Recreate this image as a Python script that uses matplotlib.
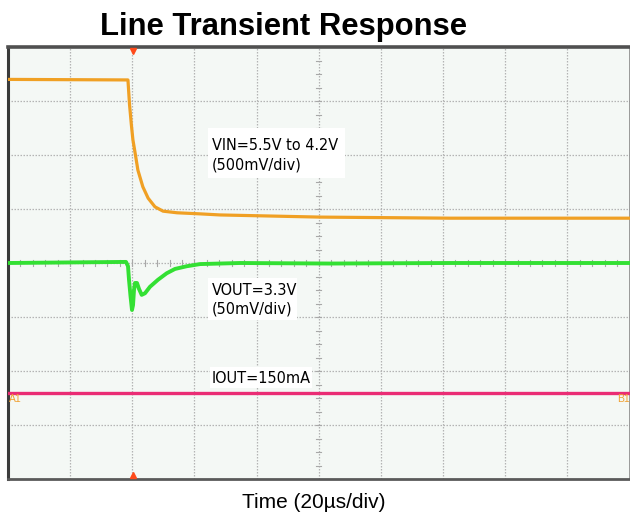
import matplotlib
matplotlib.use('Agg')
import matplotlib.pyplot as plt
from matplotlib import font_manager, transforms
from matplotlib.patches import Rectangle
import numpy as np

# ---------------- data (read from the scope capture) ----------------
# VIN step 5.5 V -> 4.2 V
vin_t_us = [0, 38.6, 39.1, 39.7, 40.2, 40.9, 41.8, 43.4, 45.1, 47.3, 49.9, 54.4,
            61.8, 68.2, 100.4, 142.2, 200]
vin_v = [5.50, 5.495, 5.27, 5.08, 4.94, 4.82, 4.66, 4.505, 4.40, 4.32, 4.28,
         4.265, 4.255, 4.245, 4.225, 4.215, 4.215]
# VOUT deviation from 3.3 V (mV)
vout_t_us = [0, 37.97, 38.62, 38.94, 39.42, 39.90, 40.23, 40.55, 40.87, 41.51,
             42.16, 43.02, 44.09, 45.70, 48.27, 51.07, 53.74, 57.51, 61.79,
             74.66, 103.6, 142.2, 200]
vout_dev_mv = [0, 1, -3, -15.5, -30.5, -43.5, -39, -25, -18.5, -18.5, -24,
               -29.5, -28, -22, -15.5, -9.5, -5.5, -3, -1, 0, -0.5, 0, 0]
# IOUT (mA)
iout_t_us = [0, 200]
iout_ma = [150, 150]

trigger_us = 40.2

# scope settings: scale per division and screen offsets (divisions)
VIN_SCALE, VIN_REF, VIN_POS = 0.5, 4.2, 0.80
VOUT_SCALE, VOUT_POS = 50.0, 0.0
IOUT_SCALE, IOUT_REF, IOUT_POS = 100.0, 150.0, -2.41

# ---------------- fonts ----------------
fonts = font_manager.fontManager.ttflist
names = {f.name for f in fonts}
if 'Liberation Sans Narrow' in names:
    lab_font = dict(family=['Liberation Sans Narrow', 'DejaVu Sans'], fontsize=14)
elif any(f.name == 'DejaVu Sans' and 'condensed' in str(f.stretch) for f in fonts):
    lab_font = dict(family=['DejaVu Sans'], fontstretch='condensed', fontsize=11.6)
else:
    lab_font = dict(family=['DejaVu Sans'], fontsize=10.6)
main_family = ['Liberation Sans', 'DejaVu Sans']

W, H = 630, 513
fig = plt.figure(figsize=(W / 100, H / 100), dpi=100)
fig.patch.set_facecolor('white')
L, R, TOP, BOT = 8, 629.5, 47, 479
ax = fig.add_axes([L / W, 1 - BOT / H, (R - L) / W, (BOT - TOP) / H])
ax.set_xlim(0, 200)
ax.set_ylim(-4, 4)
ax.set_facecolor('#f4f8f5')
ax.set_xticks([])
ax.set_yticks([])

# pixel transform (y downward)
T = transforms.Affine2D().scale(1 / W, -1 / H).translate(0, 1) + fig.transFigure

# grid
gkw = dict(color='#b4b4b4', lw=0.9, ls=(0, (1.2, 1.2)), zorder=1)
for x in np.arange(20, 200, 20):
    ax.axvline(x, **gkw)
for y in np.arange(-3, 4, 1):
    ax.axhline(y, **gkw)

# center-cross minor ticks
tk = dict(color='#a8a8a8', lw=0.8, zorder=1.5)
for y in np.arange(-4, 4.001, 0.25):
    ax.plot([100 - 0.8, 100 + 0.8], [y, y], **tk)
for x in np.arange(0, 200.001, 4):
    ax.plot([x, x], [-0.055, 0.055], **tk)

for side, (c, lw) in {'left': ('#3c3c3c', 2.2), 'top': ('#505050', 2.6),
                      'bottom': ('#5a5a5a', 2.0), 'right': ('#8a8a8a', 1.2)}.items():
    ax.spines[side].set_color(c)
    ax.spines[side].set_linewidth(lw)

# traces
vin_div = (np.array(vin_v) - VIN_REF) / VIN_SCALE + VIN_POS
vout_div = np.array(vout_dev_mv) / VOUT_SCALE + VOUT_POS
iout_div = (np.array(iout_ma) - IOUT_REF) / IOUT_SCALE + IOUT_POS

ax.plot(vin_t_us, vin_div, color='#f0a024', lw=2.3, zorder=4, solid_joinstyle='round')
ax.plot(vout_t_us, vout_div, color='#33e033', lw=2.8, zorder=4, solid_joinstyle='round')
ax.plot(iout_t_us, iout_div, color='#ea2c74', lw=2.4, zorder=4)

# trigger markers
ax.plot(trigger_us, 3.93, marker='v', color='#ff4a1a', ms=5, zorder=5, clip_on=False)
ax.plot(trigger_us, -3.93, marker='^', color='#ff4a1a', ms=5, zorder=5, clip_on=False)

# label boxes
for (x0, y0, x1, y1) in [(208, 128, 345, 178), (208, 278, 297, 320), (210, 367, 312, 388)]:
    ax.add_patch(Rectangle((x0, y0), x1 - x0, y1 - y0, transform=T,
                           facecolor='white', edgecolor='none', zorder=3, clip_on=False))

fig.text(212, 150, 'VIN=5.5V to 4.2V', transform=T, va='baseline', ha='left', zorder=6, **lab_font)
fig.text(212, 169, '(500mV/div)', transform=T, va='baseline', ha='left', zorder=6, **lab_font)
fig.text(212, 295, 'VOUT=3.3V', transform=T, va='baseline', ha='left', zorder=6, **lab_font)
fig.text(212, 314, '(50mV/div)', transform=T, va='baseline', ha='left', zorder=6, **lab_font)
fig.text(212, 383, 'IOUT=150mA', transform=T, va='baseline', ha='left', zorder=6, **lab_font)

# channel markers
fig.text(9, 402, 'A1', transform=T, color='#f0a030', fontsize=7.5, family=main_family, va='baseline')
fig.text(617, 402, 'B1', transform=T, color='#f0a030', fontsize=7.5, family=main_family, va='baseline')

# title and axis label
fig.text(283, 35, 'Line Transient Response', transform=T, ha='center', va='baseline',
         fontsize=22.3, fontweight='bold', family=main_family)
fig.text(314, 508, 'Time (20µs/div)', transform=T, ha='center', va='baseline',
         fontsize=15, family=main_family)

fig.savefig('out.png', dpi=100, facecolor='white')
